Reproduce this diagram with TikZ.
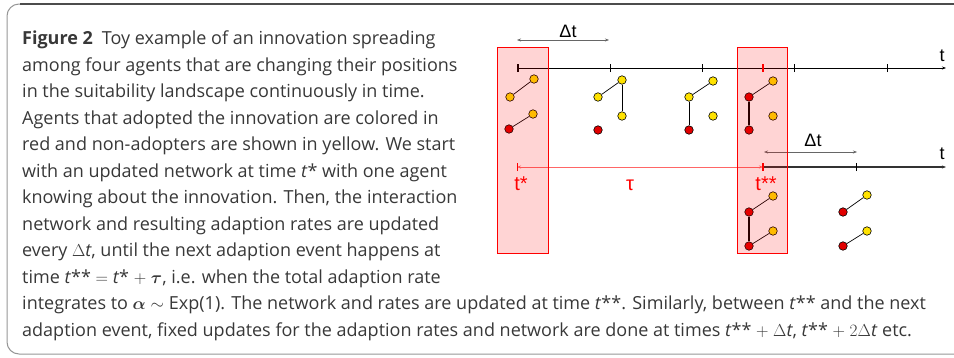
\documentclass[tikz,border=0pt]{standalone}
\usepackage{amsmath, amssymb}
\usepackage{fontspec}
\setmainfont{Open Sans}
\newfontfamily\diagfont{Liberation Sans}
\usetikzlibrary{arrows.meta}
\definecolor{agentred}{RGB}{225, 0, 0}
\definecolor{agentyellow}{RGB}{255, 226, 0}
\definecolor{framegray}{RGB}{150, 150, 150}

\begin{document}
\begin{tikzpicture}[
  x=1pt, y=-1pt,
  agent/.style={circle, draw=black, line width=0.6pt, minimum size=8.5pt, inner sep=0pt},
  adopter/.style={agent, fill=agentred},
  nonadopter/.style={agent, fill=agentyellow},
  link/.style={line width=0.7pt},
  redlink/.style={line width=1.7pt},
  axis/.style={line width=0.9pt, -{Stealth[length=4pt, width=3pt]}},
  tick/.style={line width=0.7pt},
  gap/.style={black!60, line width=0.5pt, {Stealth[length=4pt, width=3pt]}-{Stealth[length=4pt, width=3pt]}},
  updatebox/.style={draw=red, line width=0.8pt, fill=red, fill opacity=0.17},
  lbl/.style={font=\diagfont\fontsize{18}{18}\selectfont, inner sep=0pt},
  redlbl/.style={lbl, text=red, font=\diagfont\fontsize{20}{20}\selectfont},
  caption/.style={align=left, inner sep=0pt, text=black!78, font=\fontsize{18}{26.5}\selectfont}
]
  \useasboundingbox (0,0) rectangle (954,357);

  % frame round the figure
  \draw[framegray, line width=1pt, rounded corners=12pt] (954,4) -- (7,4) -- (7,354) -- (954,354);
  \draw[black!70, line width=1.2pt] (20,4) -- (954,4);

  % caption
  \node[caption, anchor=north west] (cap) at (22,31) {%
    \textbf{Figure 2}\enspace Toy example of an innovation spreading\\
    among four agents that are changing their positions\\
    in the suitability landscape continuously in time.\\
    Agents that adopted the innovation are colored in\\
    red and non-adopters are shown in yellow. We start\\
    with an updated network at time \textit{t}* with one agent\\
    knowing about the innovation. Then, the interaction\\
    network and resulting adaption rates are updated\\
    every $\Delta$\textit{t}, until the next adaption event happens at\\
    time \textit{t}** $=$ \textit{t}* $+$ $\boldsymbol{\tau}$, i.e. when the total adaption rate\\
    integrates to $\boldsymbol{\alpha}\sim{}$Exp(1). The network and rates are updated at time \textit{t}**. Similarly, between \textit{t}** and the next\\
    adaption event, fixed updates for the adaption rates and network are done at times \textit{t}** $+$ $\Delta$\textit{t}, \textit{t}** $+$ $2\Delta$\textit{t} etc.};

  % time axes
  \coordinate (tstar) at (518,68);
  \coordinate (k1) at (610,68);
  \coordinate (k2) at (702,68);
  \coordinate (tss) at (763,68);
  \coordinate (k3) at (794,68);
  \coordinate (k4) at (887,68);
  \coordinate (tend) at (946,68);
  \coordinate (lstart) at (763,167);
  \coordinate (l1) at (856,167);
  \coordinate (lend) at (946,167);
  \coordinate (taustart) at (517,167);

  \draw[axis] (tstar) -- (tend);
  \draw[axis, line width=1.3pt, black!80] (lstart) -- (lend);
  \draw[line width=1.6pt] ([yshift=-4pt]tstar) -- ([yshift=4pt]tstar);
  \foreach \k in {k1, k2, k3, k4, l1}
    \draw[tick] ([yshift=-4pt]\k) -- ([yshift=4pt]\k);
  \draw[tick, red, line width=1.2pt] ([yshift=-4pt]tss) -- ([yshift=4pt]tss);
  \node[lbl, anchor=south] (t1) at (942,62) {t};
  \node[lbl, anchor=south] (t2) at (942,160) {t};

  % update steps
  \coordinate (d1a) at (517,40);
  \coordinate (d1b) at (609,40);
  \draw[gap] (d1a) -- (d1b);
  \node[lbl, anchor=south] (dt1) at (568,38) {Δt};
  \coordinate (d2a) at (764,152);
  \coordinate (d2b) at (857,152);
  \draw[gap] (d2a) -- (d2b);
  \node[lbl, anchor=south] (dt2) at (813,147) {Δt};

  % waiting time tau
  \draw[red!60, line width=0.8pt, {Stealth[length=4pt, width=3pt]}-{Stealth[length=4pt, width=3pt]}] (taustart) -- (lstart);
  \draw[tick, red] ([yshift=-4pt]taustart) -- ([yshift=4pt]taustart);
  \draw[tick, red, line width=1.2pt] ([yshift=-4pt]lstart) -- ([yshift=4pt]lstart);
  \node[redlbl] (tlab1) at (521,184) {t*};
  \node[redlbl] (taulab) at (630,185) {τ};
  \node[redlbl] (tlab2) at (766,184) {t**};

  % agents at t*
  \node[nonadopter] (a1) at (510,97) {};
  \node[nonadopter] (b1) at (534,79) {};
  \node[adopter] (c1) at (509,129) {};
  \node[nonadopter] (d1) at (533,114) {};
  \draw[link] (a1) -- (b1);
  \draw[link] (c1) -- (d1);

  % agents at t* + dt
  \node[nonadopter] (a2) at (598,97) {};
  \node[nonadopter] (b2) at (622,80) {};
  \node[nonadopter] (d2) at (622,116) {};
  \node[adopter] (c2) at (598,130) {};
  \draw[link] (a2) -- (b2);
  \draw[link] (b2) -- (d2);

  % agents at t* + 2dt
  \node[nonadopter] (a3) at (689,97) {};
  \node[nonadopter] (b3) at (713,81) {};
  \node[nonadopter] (d3) at (713,116) {};
  \node[adopter] (c3) at (689,130) {};
  \draw[link] (a3) -- (b3);
  \draw[link] (a3) -- (c3);

  % agents at t** (before adoption)
  \node[adopter] (a4) at (749,97) {};
  \node[nonadopter] (b4) at (773,81) {};
  \node[nonadopter] (d4) at (773,116) {};
  \node[adopter] (c4) at (749,130) {};
  \draw[link] (a4) -- (b4);
  \draw[redlink] (a4) -- (c4);

  % agents at t** (updated)
  \node[adopter] (a5) at (749,212) {};
  \node[nonadopter] (b5) at (773,196) {};
  \node[adopter] (c5) at (749,246) {};
  \node[nonadopter] (d5) at (773,231) {};
  \draw[link] (a5) -- (b5);
  \draw[redlink] (a5) -- (c5);
  \draw[link] (c5) -- (d5);

  % agents at t** + dt
  \node[adopter] (a6) at (843,212) {};
  \node[nonadopter] (b6) at (867,195) {};
  \node[adopter] (c6) at (843,246) {};
  \node[nonadopter] (d6) at (867,231) {};
  \draw[link] (a6) -- (b6);
  \draw[link] (c6) -- (d6);

  % update boxes
  \node[updatebox, minimum width=51pt, minimum height=206pt, inner sep=0pt] (box1) at (522.5,150) {};
  \node[updatebox, minimum width=50pt, minimum height=206pt, inner sep=0pt] (box2) at (762,150) {};
\end{tikzpicture}
\end{document}
